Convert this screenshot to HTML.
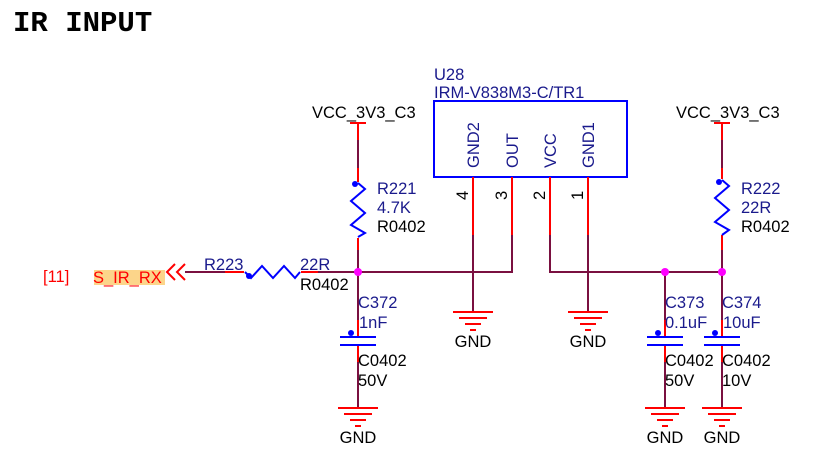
<!DOCTYPE html>
<html><head><meta charset="utf-8"><style>
html,body{margin:0;padding:0;background:#fff;}
svg{display:block;}
text{font-family:"Liberation Sans",sans-serif;font-size:16.5px;}
</style></head><body>
<svg width="817" height="459" viewBox="0 0 817 459" xmlns="http://www.w3.org/2000/svg">
<defs>
<g id="gnd">
<line x1="-20" y1="0" x2="20" y2="0" stroke="#f00" stroke-width="2"/>
<line x1="-14" y1="6" x2="14" y2="6" stroke="#f00" stroke-width="2"/>
<line x1="-8" y1="12" x2="8" y2="12" stroke="#f00" stroke-width="2"/>
<line x1="-3" y1="18" x2="3" y2="18" stroke="#f00" stroke-width="2"/>
<text x="0" y="35" text-anchor="middle" fill="#000">GND</text>
</g>
<g id="capv">
<line x1="-18" y1="0" x2="18" y2="0" stroke="#00f" stroke-width="2"/>
<line x1="-18" y1="8" x2="18" y2="8" stroke="#00f" stroke-width="2"/>
<circle cx="-7" cy="-4" r="3" fill="#00f"/>
</g>
</defs>
<text x="13" y="31" style="font-family:'Liberation Mono',monospace;font-size:29px;font-weight:bold" fill="#000">IR INPUT</text>

<!-- U28 -->
<text x="434" y="80" fill="#1a1a8c">U28</text>
<text x="434" y="98" fill="#1a1a8c">IRM-V838M3-C/TR1</text>
<rect x="434" y="101" width="193" height="76" fill="none" stroke="#00f" stroke-width="2"/>
<g fill="#1a1a8c">
<text transform="translate(479,168) rotate(-90)">GND2</text>
<text transform="translate(518,168) rotate(-90)">OUT</text>
<text transform="translate(556,168) rotate(-90)">VCC</text>
<text transform="translate(594,168) rotate(-90)">GND1</text>
<text transform="translate(468,200) rotate(-90)" fill="#000">4</text>
<text transform="translate(507,200) rotate(-90)" fill="#000">3</text>
<text transform="translate(545,200) rotate(-90)" fill="#000">2</text>
<text transform="translate(583,200) rotate(-90)" fill="#000">1</text>
</g>
<g stroke="#f00" stroke-width="2">
<line x1="473" y1="177" x2="473" y2="235"/><line x1="512" y1="177" x2="512" y2="235"/>
<line x1="550" y1="177" x2="550" y2="235"/><line x1="588" y1="177" x2="588" y2="235"/>
</g>
<g stroke="#7a1040" stroke-width="2" fill="none">
<polyline points="473,235 473,312"/>
<polyline points="588,235 588,312"/>
<polyline points="512,235 512,272 185,272"/>
<polyline points="550,235 550,272 722,272"/>
<line x1="358" y1="128" x2="358" y2="408"/>
<line x1="722" y1="128" x2="722" y2="408"/>
<line x1="665" y1="272" x2="665" y2="408"/>
</g>
<g stroke="#f00" stroke-width="2">
<line x1="350" y1="123" x2="366" y2="123"/><line x1="358" y1="123" x2="358" y2="140"/>
<line x1="714" y1="123" x2="730" y2="123"/><line x1="722" y1="123" x2="722" y2="140"/>
<line x1="358" y1="168" x2="358" y2="183"/><line x1="358" y1="237" x2="358" y2="250"/>
<line x1="722" y1="168" x2="722" y2="180"/><line x1="722" y1="235" x2="722" y2="250"/>
<line x1="225" y1="272" x2="245" y2="272"/><line x1="300" y1="272" x2="318" y2="272"/>
<line x1="358" y1="320" x2="358" y2="337"/><line x1="358" y1="345" x2="358" y2="362"/>
<line x1="665" y1="320" x2="665" y2="337"/><line x1="665" y1="345" x2="665" y2="362"/>
<line x1="722" y1="320" x2="722" y2="337"/><line x1="722" y1="345" x2="722" y2="362"/>
</g>
<rect x="345" y="182" width="26" height="56" fill="#fff"/>
<polyline points="358,183 365,189 351,201 365,213 351,225 365,233 358,237" fill="none" stroke="#00f" stroke-width="2"/>
<circle cx="355" cy="184" r="3" fill="#00f"/>
<rect x="709" y="179" width="26" height="56" fill="#fff"/>
<polyline points="722,180 729,186 715,198 729,210 715,222 729,230 722,235" fill="none" stroke="#00f" stroke-width="2"/>
<circle cx="719" cy="182" r="3" fill="#00f"/>
<rect x="244" y="262" width="57" height="18" fill="#fff"/>
<polyline points="245,272 251,278 262,266 273,278 284,266 295,278 300,272" fill="none" stroke="#00f" stroke-width="2"/>
<circle cx="249" cy="276" r="3" fill="#00f"/>
<rect x="340" y="337" width="36" height="8" fill="#fff"/>
<rect x="647" y="337" width="36" height="8" fill="#fff"/>
<rect x="704" y="337" width="36" height="8" fill="#fff"/>
<use href="#capv" x="358" y="337"/>
<use href="#capv" x="665" y="337"/>
<use href="#capv" x="722" y="337"/>
<circle cx="358" cy="272" r="4" fill="#f0f"/>
<circle cx="665" cy="272" r="4" fill="#f0f"/>
<circle cx="722" cy="272" r="4" fill="#f0f"/>
<use href="#gnd" x="473" y="312"/>
<use href="#gnd" x="588" y="312"/>
<use href="#gnd" x="358" y="408"/>
<use href="#gnd" x="665" y="408"/>
<use href="#gnd" x="722" y="408"/>
<text x="312" y="118" fill="#000">VCC_3V3_C3</text>
<text x="676" y="118" fill="#000">VCC_3V3_C3</text>
<text x="377" y="194" fill="#1a1a8c">R221</text>
<text x="377" y="213" fill="#1a1a8c">4.7K</text>
<text x="377" y="232" fill="#000">R0402</text>
<text x="741" y="194" fill="#1a1a8c">R222</text>
<text x="741" y="213" fill="#1a1a8c">22R</text>
<text x="741" y="232" fill="#000">R0402</text>
<text x="204" y="270" fill="#1a1a8c">R223</text>
<text x="300" y="270" fill="#1a1a8c">22R</text>
<text x="300" y="290" fill="#000">R0402</text>
<text x="358" y="308" fill="#1a1a8c">C372</text>
<text x="359" y="328" fill="#1a1a8c">1nF</text>
<text x="358" y="366" fill="#000">C0402</text>
<text x="358" y="386" fill="#000">50V</text>
<text x="665" y="308" fill="#1a1a8c">C373</text>
<text x="665" y="328" fill="#1a1a8c">0.1uF</text>
<text x="665" y="366" fill="#000">C0402</text>
<text x="665" y="386" fill="#000">50V</text>
<text x="722" y="308" fill="#1a1a8c">C374</text>
<text x="723" y="328" fill="#1a1a8c">10uF</text>
<text x="722" y="366" fill="#000">C0402</text>
<text x="722" y="386" fill="#000">10V</text>
<text x="43" y="282" fill="#f00">[11]</text>
<rect x="94" y="270" width="71" height="15" fill="#fcd58a"/>
<text x="93" y="283" fill="#f00">S_IR_RX</text>
<polyline points="175,264 167,272 175,280" fill="none" stroke="#f00" stroke-width="2"/>
<polyline points="185,264 177,272 185,280" fill="none" stroke="#f00" stroke-width="2"/>
</svg>
</body></html>
